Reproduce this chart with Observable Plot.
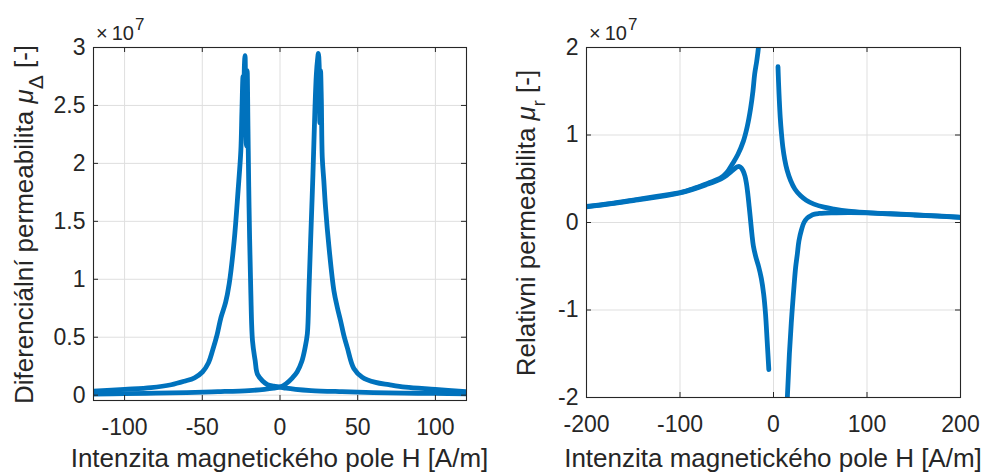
<!DOCTYPE html>
<html><head><meta charset="utf-8">
<script src="https://cdn.jsdelivr.net/npm/d3@7"></script>
<script src="https://cdn.jsdelivr.net/npm/@observablehq/plot@0.6"></script>
<style>
body{margin:0;background:#fff;}
#row{display:flex;width:986px;height:473px;overflow:hidden;}
#row svg{overflow:visible;}
</style></head><body><div id="row"></div>
<script>
// ---------- Left panel: differential permeability (values in units of 1e7) ----------
const leftXTicks = [-100, -50, 0, 50, 100];
const leftYTicks = [0, 0.5, 1, 1.5, 2, 2.5, 3];
const xLabelText = "Intenzita magnetického pole H [A/m]";

// ascending branch (peak at about +25 A/m)
const ascH  = [-120,-100,-80,-60,-40,-20,-10,-4,0,4,8,11,14,16,17.6,18.6,19.7,21.2,22.5,23.4,24.2,24.7,25.2,25.6,26.1,26.6,27.2,28.2,29.3,31.5,34.7,37,39,41,43.3,47.5,52.9,61.5,70,80.7,100,120];
const ascMu = [0.01,0.013,0.017,0.022,0.03,0.04,0.05,0.06,0.07,0.1,0.15,0.2,0.29,0.4,0.53,0.9,1.33,1.91,2.48,2.77,2.9,2.95,2.85,2.35,2.8,2.55,2.05,1.85,1.62,1.28,0.9,0.75,0.64,0.52,0.41,0.23,0.155,0.11,0.09,0.069,0.05,0.03];
// descending branch (peak at about -23 A/m)
const descH  = [120,100,80,60,40,20,10,4,0,-4,-8,-11,-14.5,-16,-17.7,-18.8,-19.9,-20.6,-21.1,-21.6,-22.1,-22.5,-22.9,-23.3,-23.8,-24.5,-25.2,-27,-29.5,-32.7,-35,-38,-40.5,-43.4,-46,-49.9,-55,-61.6,-70,-83,-100,-120];
const descMu = [0.012,0.015,0.018,0.022,0.03,0.04,0.05,0.06,0.07,0.078,0.09,0.12,0.18,0.3,0.47,0.9,1.62,2.3,2.8,2.15,2.5,2.93,2.85,2.6,2.75,2.45,2.11,1.76,1.33,0.96,0.8,0.67,0.52,0.385,0.28,0.2,0.15,0.12,0.09,0.065,0.05,0.035];

// ---------- Right panel: relative permeability (values in units of 1e7) ----------
const rightXTicks = [-200, -100, 0, 100, 200];
const rightYTicks = [-2, -1, 0, 1, 2];

const rAscNegH  = [-200,-175,-150,-125,-100,-85,-70,-56.4,-50,-43.9,-38,-32.2,-28,-24.4,-22,-20.1,-18,-16.1,-14];
const rAscNegMu = [0.183,0.215,0.256,0.30,0.343,0.39,0.45,0.51,0.57,0.67,0.78,0.93,1.1,1.31,1.5,1.70,1.84,2.0,2.35];
const rDescNegH  = [-200,-150,-100,-70,-56,-50,-45,-41,-38.5,-36.5,-34.5,-32.5,-30.5,-29,-27.5,-26,-24.5,-23,-21.5,-19,-16,-13,-10.5,-8.5,-6.8,-5];
const rDescNegMu = [0.178,0.25,0.337,0.44,0.5,0.54,0.585,0.62,0.637,0.64,0.625,0.59,0.53,0.45,0.33,0.18,0.02,-0.14,-0.27,-0.39,-0.5,-0.64,-0.82,-1.05,-1.35,-1.68];
const rDescPosH  = [4.8,5.4,6.2,7.2,8.5,10,12,14.5,18.4,23,29,35,43.3,54,64.7,80,100,125,150,175,200];
const rDescPosMu = [1.78,1.6,1.4,1.2,1.02,0.86,0.72,0.6,0.477,0.38,0.305,0.255,0.21,0.175,0.153,0.13,0.114,0.1,0.088,0.075,0.06];
const rAscPosH  = [13,14.8,17,19,20.2,22,23.7,25.5,27.2,30,32.6,36,39.7,44,48.6,55,64.7,80,100,125,150,175,200];
const rAscPosMu = [-2.6,-2.0,-1.5,-1.15,-0.97,-0.72,-0.51,-0.36,-0.21,-0.08,0.0,0.05,0.077,0.095,0.103,0.108,0.11,0.112,0.11,0.098,0.086,0.073,0.058];

const FONT = "'Liberation Sans', Arial, Helvetica, sans-serif";
const INK = "#262626";
const BLUE = "#0072BD";

function toRows(list) {
  const rows = [];
  list.forEach(([H, M], s) => H.forEach((h, i) => rows.push({H: h, mu: M[i], s})));
  return rows;
}

function panel(o) {
  const fw = o.width - o.ml - o.mr, fh = o.height - o.mt - o.mb;
  const fmt = d => String(d);
  const svg = Plot.plot({
    width: o.width, height: o.height,
    marginLeft: o.ml, marginRight: o.mr, marginTop: o.mt, marginBottom: o.mb,
    style: {fontFamily: FONT, fontSize: "23px", color: INK, background: "transparent", overflow: "visible"},
    x: {domain: o.xDomain},
    y: {domain: o.yDomain},
    marks: [
      Plot.gridX(o.xTicks, {stroke: "#dfdfdf", strokeOpacity: 1}),
      Plot.gridY(o.yTicks, {stroke: "#dfdfdf", strokeOpacity: 1}),
      Plot.line(toRows(o.series), {x: "H", y: "mu", z: "s", stroke: BLUE, strokeWidth: 4.8, curve: "catmull-rom", clip: true}),
      Plot.frame({stroke: INK, strokeWidth: 1.1}),
      Plot.ruleX(o.xTicks, {insetTop: fh - 5, stroke: INK}),
      Plot.ruleX(o.xTicks, {insetBottom: fh - 5, stroke: INK}),
      Plot.ruleY(o.yTicks, {insetRight: fw - 5, stroke: INK}),
      Plot.ruleY(o.yTicks, {insetLeft: fw - 5, stroke: INK}),
      Plot.axisX(o.xTicks, {tickSize: 0, tickPadding: 18, label: null, tickFormat: fmt, fontSize: 23, fill: INK}),
      Plot.axisY(o.yTicks, {tickSize: 0, tickPadding: 8, label: null, tickFormat: fmt, fontSize: 23, fill: INK})
    ]
  });
  const s = d3.select(svg);
  // x label
  s.append("text").attr("x", o.ml + fw / 2).attr("y", o.height - 6)
    .attr("text-anchor", "middle").attr("fill", INK)
    .style("font-size", "26px").style("font-family", FONT).text(o.xLabel);
  // y label with mu and subscript
  const yl = s.append("text").attr("transform", `translate(${o.ylx},${o.mt + fh / 2 + 1}) rotate(-90)`)
    .attr("text-anchor", "middle").attr("fill", INK)
    .style("font-size", "26px").style("font-family", FONT);
  yl.append("tspan").text(o.yLabelPre);
  yl.append("tspan").style("font-style", "italic").text("μ");
  yl.append("tspan").attr("dy", "10").style("font-size", o.subSize).text(o.sub);
  yl.append("tspan").attr("dy", "-10").text(" [-]");
  // exponent label (×10^7) above the top-left corner of the frame
  const ex = s.append("text").attr("x", o.ml + 3).attr("y", o.mt - 7).attr("fill", INK)
    .attr("text-anchor", "start").style("font-family", FONT).style("font-size", "20px");
  ex.append("tspan").text("×");
  ex.append("tspan").attr("dx", "4").text("10");
  ex.append("tspan").attr("dy", "-10").attr("dx", "1").style("font-size", "17px").text("7");
  return svg;
}

const row = document.getElementById("row");
row.append(panel({
  width: 493, height: 473, ml: 93, mr: 27, mt: 47, mb: 73,
  xDomain: [-120, 120], yDomain: [-0.046, 3],
  xTicks: leftXTicks, yTicks: leftYTicks,
  series: [[ascH, ascMu], [descH, descMu]],
  xLabel: xLabelText, ylx: 33,
  yLabelPre: "Diferenciální permeabilita ", sub: "Δ", subSize: "21px"
}));
row.append(panel({
  width: 493, height: 473, ml: 93, mr: 26, mt: 47, mb: 76,
  xDomain: [-200, 200], yDomain: [-2, 2],
  xTicks: rightXTicks, yTicks: rightYTicks,
  series: [[rAscNegH, rAscNegMu], [rDescNegH, rDescNegMu], [rDescPosH, rDescPosMu], [rAscPosH, rAscPosMu]],
  xLabel: xLabelText, ylx: 42,
  yLabelPre: "Relativni permeabilita ", sub: "r", subSize: "18px"
}));
</script>
</body></html>
